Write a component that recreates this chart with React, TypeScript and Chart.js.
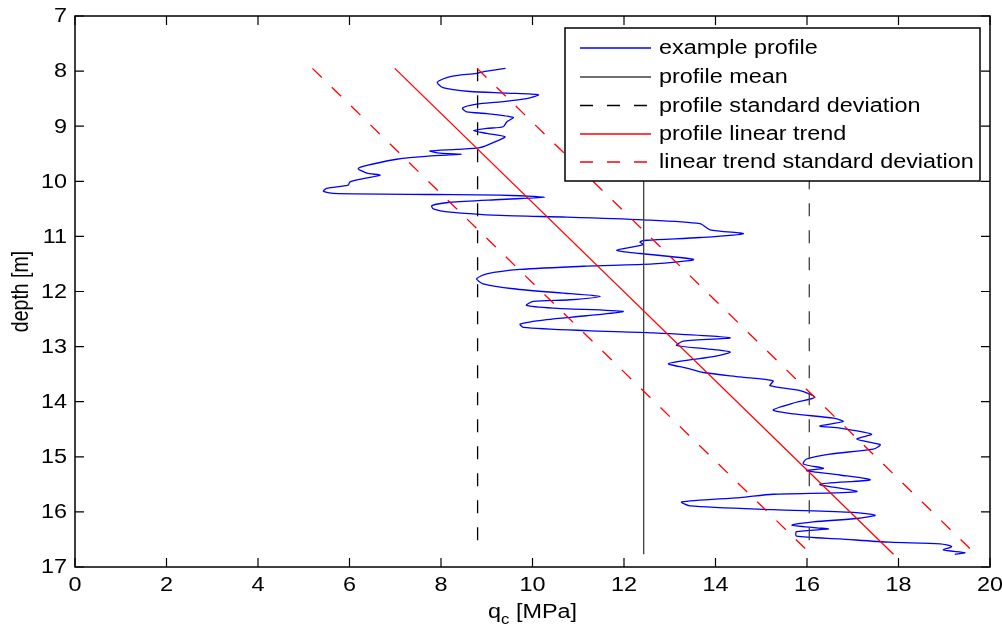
import { useEffect, useRef } from 'react';
import { Chart, registerables } from 'chart.js';

Chart.register(...registerables);

// ---- data ----
const profileQc = [
  9.41, 9.0, 8.78, 8.2, 7.92, 8.04, 8.63, 9.44, 10.13, 9.87, 9.29, 8.78, 8.47, 8.56, 9.0, 9.58, 9.44, 9.36, 9.0, 8.71,
  9.0, 9.4, 9.22, 8.85, 8.34, 7.76, 7.98, 8.45, 7.98, 7.32, 7.03, 6.38, 6.19, 6.38, 6.67, 6.3, 6.01, 5.97, 5.5, 5.43,
  5.65, 7.83, 9.29, 10.27, 9.29, 8.2, 7.8, 7.83, 8.2, 9.29, 10.75, 12.42, 13.66, 13.88, 14.61, 13.66, 12.5, 12.35, 12.42, 11.84,
  12.35, 13.52, 12.64, 11.18, 9.73, 9.0, 8.78, 8.92, 9.58, 10.82, 11.48, 10.82, 10.02, 9.87, 10.45, 11.98, 11.18, 10.31, 9.73, 9.8,
  11.18, 12.64, 14.32, 13.3, 13.15, 13.8, 14.32, 13.95, 13.44, 12.97, 13.37, 13.73, 14.54, 15.26, 15.19, 15.85, 16.17, 15.77, 15.26, 15.7,
  16.58, 16.79, 16.28, 16.72, 17.41, 17.09, 17.6, 17.45, 16.5, 15.99, 15.92, 16.36, 15.99, 16.72, 17.38, 16.28, 17.09, 15.26, 14.54, 13.26,
  13.44, 15.26, 17.01, 17.49, 17.09, 16.14, 15.67, 16.21, 16.47, 15.77, 15.77, 16.72, 17.81, 18.91, 19.16, 18.98, 19.45, 19.23,
];
const profileDepth = [
  7.95, 8.0, 8.04, 8.1, 8.2, 8.3, 8.37, 8.4, 8.43, 8.5, 8.56, 8.6, 8.67, 8.74, 8.77, 8.84, 8.92, 9.01, 9.04, 9.08,
  9.13, 9.19, 9.27, 9.39, 9.42, 9.45, 9.49, 9.51, 9.53, 9.57, 9.6, 9.71, 9.77, 9.85, 9.89, 9.95, 10.01, 10.07, 10.13, 10.18,
  10.22, 10.24, 10.25, 10.29, 10.33, 10.38, 10.44, 10.5, 10.56, 10.62, 10.65, 10.7, 10.77, 10.88, 10.95, 11.02, 11.07, 11.1, 11.15, 11.25,
  11.31, 11.42, 11.5, 11.54, 11.6, 11.68, 11.77, 11.86, 11.95, 12.04, 12.09, 12.15, 12.18, 12.25, 12.3, 12.36, 12.44, 12.51, 12.59, 12.65,
  12.71, 12.75, 12.84, 12.9, 12.98, 13.04, 13.1, 13.18, 13.24, 13.31, 13.39, 13.47, 13.55, 13.62, 13.71, 13.8, 13.92, 14.01, 14.15, 14.22,
  14.3, 14.36, 14.44, 14.48, 14.59, 14.68, 14.78, 14.86, 14.95, 15.04, 15.13, 15.21, 15.25, 15.33, 15.42, 15.5, 15.63, 15.68, 15.74, 15.82,
  15.89, 15.96, 16.01, 16.06, 16.12, 16.18, 16.24, 16.29, 16.31, 16.36, 16.44, 16.49, 16.55, 16.58, 16.63, 16.69, 16.74, 16.77,
];

const lineDepths = [7.95, 16.77];
const meanQc = [12.43, 12.43];
const stdLowQc = [8.8, 8.8];
const stdHighQc = [16.05, 16.05];
const trendQc = [6.99, 17.89];
const trendLowQc = [5.19, 16.09];
const trendHighQc = [8.79, 19.69];

const xTicks = [0, 2, 4, 6, 8, 10, 12, 14, 16, 18, 20];
const yTicks = [7, 8, 9, 10, 11, 12, 13, 14, 15, 16, 17];

const labels = [
  'example profile',
  'profile mean',
  'profile standard deviation',
  'profile linear trend',
  'linear trend standard deviation',
];

const FONT = '"Liberation Sans", Arial, Helvetica, sans-serif';
const SX = 1.2;
const FS = 19.5;

function pts(xs: number[], ys: number[]) {
  return xs.map((x, i) => ({ x, y: ys[i] }));
}

function sText(ctx: CanvasRenderingContext2D, text: string, x: number, y: number, align: string, baseline: CanvasTextBaseline, size = FS) {
  ctx.save();
  ctx.font = `${size}px ${FONT}`;
  ctx.textBaseline = baseline;
  ctx.textAlign = 'left';
  const w = ctx.measureText(text).width * SX;
  let left = x;
  if (align === 'center') left = x - w / 2;
  else if (align === 'right') left = x - w;
  ctx.translate(left, y);
  ctx.scale(SX, 1);
  ctx.fillStyle = '#000';
  ctx.fillText(text, 0, 0);
  ctx.restore();
  return w;
}

const decorPlugin = {
  id: 'decor',
  afterDatasetsDraw(chart: any) {
    const ctx: CanvasRenderingContext2D = chart.ctx;
    const { left, right, top, bottom } = chart.chartArea;
    const xs = chart.scales.x;
    const ys = chart.scales.y;
    ctx.save();
    ctx.strokeStyle = '#000';
    ctx.lineWidth = 1.5;
    ctx.setLineDash([]);
    // frame
    ctx.strokeRect(left, top, right - left, bottom - top);
    // ticks inward on all sides
    const TL = 9;
    ctx.lineWidth = 1.2;
    ctx.beginPath();
    xTicks.forEach((v) => {
      const px = xs.getPixelForValue(v);
      ctx.moveTo(px, bottom);
      ctx.lineTo(px, bottom - TL);
      ctx.moveTo(px, top);
      ctx.lineTo(px, top + TL);
    });
    yTicks.forEach((v) => {
      const py = ys.getPixelForValue(v);
      ctx.moveTo(left, py);
      ctx.lineTo(left + TL, py);
      ctx.moveTo(right, py);
      ctx.lineTo(right - TL, py);
    });
    ctx.stroke();
    // tick labels
    xTicks.forEach((v) => {
      sText(ctx, String(v), xs.getPixelForValue(v), bottom + 19, 'center', 'middle');
    });
    yTicks.forEach((v) => {
      sText(ctx, String(v), left - 8, ys.getPixelForValue(v) + 1, 'right', 'middle');
    });
    // y title
    ctx.save();
    ctx.translate(22, (top + bottom) / 2);
    ctx.scale(SX, 1);
    ctx.rotate(-Math.PI / 2);
    ctx.font = `${FS}px ${FONT}`;
    ctx.textAlign = 'center';
    ctx.textBaseline = 'middle';
    ctx.fillStyle = '#000';
    ctx.fillText('depth [m]', 0, 0);
    ctx.restore();
    // x title with subscript
    ctx.save();
    ctx.font = `${FS}px ${FONT}`;
    const wq = ctx.measureText('q').width * SX;
    const wrest = ctx.measureText(' [MPa]').width * SX;
    ctx.font = `${FS * 0.72}px ${FONT}`;
    const wc = ctx.measureText('c').width * SX;
    ctx.restore();
    const total = wq + wc + wrest;
    let tx = (left + right) / 2 - total / 2;
    const tb = 618;
    sText(ctx, 'q', tx, tb, 'left', 'alphabetic');
    tx += wq;
    sText(ctx, 'c', tx, tb + 6, 'left', 'alphabetic', FS * 0.72);
    tx += wc;
    sText(ctx, ' [MPa]', tx, tb, 'left', 'alphabetic');

    // legend
    const lx = 565, ly = 28, lw = 415, lh = 153;
    ctx.fillStyle = '#fff';
    ctx.fillRect(lx, ly, lw, lh);
    ctx.lineWidth = 1.5;
    ctx.strokeStyle = '#000';
    ctx.strokeRect(lx, ly, lw, lh);
    const rowY = [48, 77, 105.5, 134, 162];
    chart.data.datasets.slice(0, 5).forEach((ds: any, i: number) => {
      const y = rowY[i];
      ctx.save();
      ctx.strokeStyle = ds.borderColor;
      ctx.lineWidth = ds.borderWidth;
      ctx.setLineDash(ds.borderDash || []);
      ctx.beginPath();
      ctx.moveTo(580, y);
      ctx.lineTo(651, y);
      ctx.stroke();
      ctx.restore();
      sText(ctx, labels[i], 659, y + 1, 'left', 'middle');
    });
    ctx.restore();
  },
};

export default function App() {
  const ref = useRef<HTMLCanvasElement | null>(null);
  useEffect(() => {
    document.body.style.margin = '0';
    if (!ref.current) return;
    const dash = [13, 14];
    const chart = new Chart(ref.current, {
      type: 'scatter',
      data: {
        datasets: [
          { label: labels[0], data: pts(profileQc, profileDepth), borderColor: '#0000ff', borderWidth: 1.3, showLine: true, pointRadius: 0, tension: 0.25, order: 6 },
          { label: labels[1], data: pts(meanQc, lineDepths), borderColor: '#404040', borderWidth: 1.3, showLine: true, pointRadius: 0, order: 5 },
          { label: labels[2], data: pts(stdLowQc, lineDepths), borderColor: '#000000', borderWidth: 1.3, borderDash: dash, showLine: true, pointRadius: 0, order: 4 },
          { label: labels[3], data: pts(trendQc, lineDepths), borderColor: '#ff0000', borderWidth: 1.3, showLine: true, pointRadius: 0, order: 2 },
          { label: labels[4], data: pts(trendLowQc, lineDepths), borderColor: '#ff0000', borderWidth: 1.3, borderDash: dash, showLine: true, pointRadius: 0, order: 1 },
          { label: labels[2], data: pts(stdHighQc, lineDepths), borderColor: '#404040', borderWidth: 1.3, borderDash: dash, showLine: true, pointRadius: 0, order: 3 },
          { label: labels[4], data: pts(trendHighQc, lineDepths), borderColor: '#ff0000', borderWidth: 1.3, borderDash: dash, showLine: true, pointRadius: 0, order: 0 },
        ],
      },
      options: {
        animation: false,
        responsive: true,
        maintainAspectRatio: false,
        layout: { padding: { left: 75, right: 12, top: 16, bottom: 65 } },
        plugins: { legend: { display: false }, tooltip: { enabled: false }, title: { display: false } },
        scales: {
          x: { type: 'linear', min: 0, max: 20, display: false },
          y: { type: 'linear', min: 7, max: 17, reverse: true, display: false },
        },
      },
      plugins: [decorPlugin],
    });
    return () => chart.destroy();
  }, []);
  return (
    <div style={{ position: 'absolute', left: 0, top: 0, width: 1002, height: 632, background: '#fff' }}>
      <canvas ref={ref} />
    </div>
  );
}
